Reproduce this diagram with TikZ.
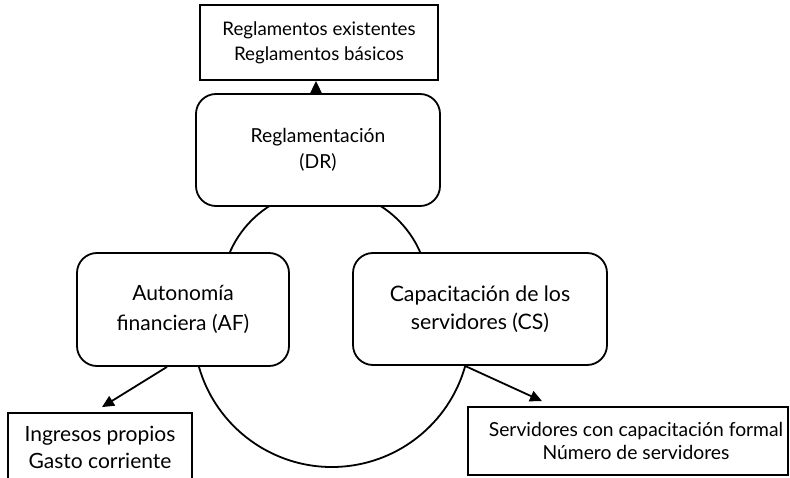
\documentclass[tikz,border=0pt]{standalone}
\usepackage{fontspec}
\setmainfont{Lato}
\usetikzlibrary{arrows.meta}
\begin{document}
\begin{tikzpicture}[x=1pt,y=-1pt,
  box/.style={draw,line width=1.8pt,fill=white,inner sep=0pt,align=center},
  rbox/.style={box,rounded corners=20pt},
  conn/.style={line width=1.8pt,-{Triangle[length=12pt,width=11pt]}},
  ring/.style={line width=1.8pt}]
\useasboundingbox (0,0) rectangle (790,478);
\clip (0,0) rectangle (790,478);
% the loop behind the three central boxes
\draw[ring] (226.9,259.9) arc[start angle=199,end angle=341,radius=103.8];
\draw[ring] (196.1,355) arc[start angle=169,end angle=11,radius=138.4];
\node[box,minimum width=238pt,minimum height=75pt,font=\fontsize{18.7}{25}\selectfont] (top) at (319,42.5) {Reglamentos existentes\\Reglamentos básicos};
\node[rbox,minimum width=244pt,minimum height=112pt,font=\fontsize{19.3}{26}\selectfont] (dr) at (318,150) {Reglamentación\\(DR)};
\node[rbox,minimum width=212pt,minimum height=113pt,font=\fontsize{21}{30}\selectfont] (af) at (183,309.5) {Autonomía\\financiera (AF)};
\node[rbox,minimum width=254pt,minimum height=112pt,font=\fontsize{21.3}{28}\selectfont] (cs) at (480,309) {Capacitación de los\\servidores (CS)};
\node[box,minimum width=184pt,minimum height=68pt,font=\fontsize{21}{27}\selectfont] (ing) at (100,447) {Ingresos propios\\Gasto corriente};
\node[box,minimum width=320pt,minimum height=68pt,font=\fontsize{19.3}{23}\selectfont] (srv) at (628,441) {\hspace*{16pt}Servidores con capacitación formal\\\hspace*{16pt}Número de servidores};
\draw[conn] ([xshift=-2pt]dr.north) -- ([xshift=-2pt]dr.north |- top.south);
\draw[conn] ([xshift=-16pt]af.south) -- ([xshift=2pt,yshift=5pt]ing.north);
\draw[conn] ([xshift=-15pt]cs.south) -- ([xshift=-86pt,yshift=5pt]srv.north);
\end{tikzpicture}
\end{document}
